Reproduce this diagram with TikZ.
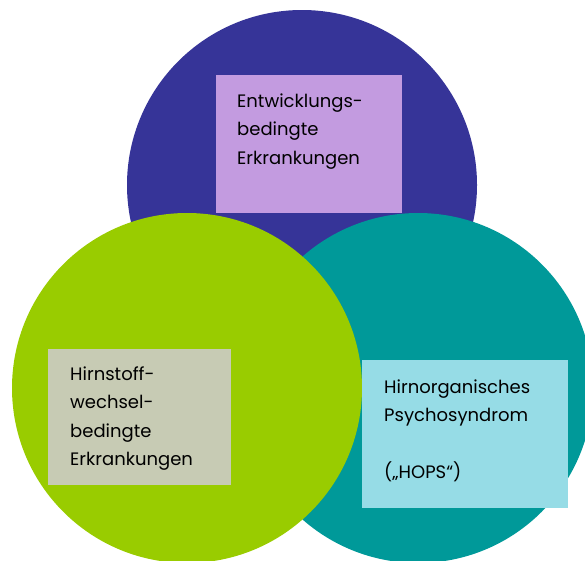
\documentclass[tikz,border=0pt]{standalone}
\usepackage{fontspec}
\setmainfont{Poppins}
\usepackage{xcolor}
\usetikzlibrary{positioning}

\definecolor{ringblue}{RGB}{54,52,152}
\definecolor{ringgreen}{RGB}{153,204,0}
\definecolor{ringteal}{RGB}{0,153,153}
\definecolor{boxlilac}{RGB}{195,155,224}
\definecolor{boxsage}{RGB}{199,203,180}
\definecolor{boxsky}{RGB}{150,220,230}

\begin{document}
\begin{tikzpicture}[
    x=1pt, y=-1pt,
    ring/.style={circle, minimum size=350pt, inner sep=0pt, fill=#1},
    panel/.style={rectangle, inner sep=0pt, anchor=north west, fill=#1},
    txt/.style={anchor=north west, inner sep=0pt, align=left, text=black,
        font=\fontsize{18}{28.5}\selectfont},
]
    \useasboundingbox (0,0) rectangle (585,560);

    % the three circles
    \node[ring=ringblue] (top) at (302,185) {};
    \node[ring=ringteal] (right) at (418,388) {};
    \node[ring=ringgreen] (left) at (187,388) {};

    % boxes with their texts
    \node[panel=boxlilac, minimum width=186pt, minimum height=138pt] (devbox) at (216,75) {};
    \node[txt] (devtext) at ([xshift=21pt, yshift=-18.5pt]devbox.north west)
        {Entwicklungs-\\bedingte\\Erkrankungen};

    \node[panel=boxsage, minimum width=183pt, minimum height=136pt] (metbox) at (48,349) {};
    \node[txt] (mettext) at ([xshift=22pt, yshift=-17.5pt]metbox.north west)
        {Hirnstoff-\\wechsel-\\bedingte\\Erkrankungen};

    \node[panel=boxsky, minimum width=206pt, minimum height=148pt] (hopsbox) at (362,360) {};
    \node[txt] (hopstext) at ([xshift=22pt, yshift=-19.5pt]hopsbox.north west)
        {Hirnorganisches\\Psychosyndrom\\[28.5pt](„HOPS“)};
\end{tikzpicture}
\end{document}
